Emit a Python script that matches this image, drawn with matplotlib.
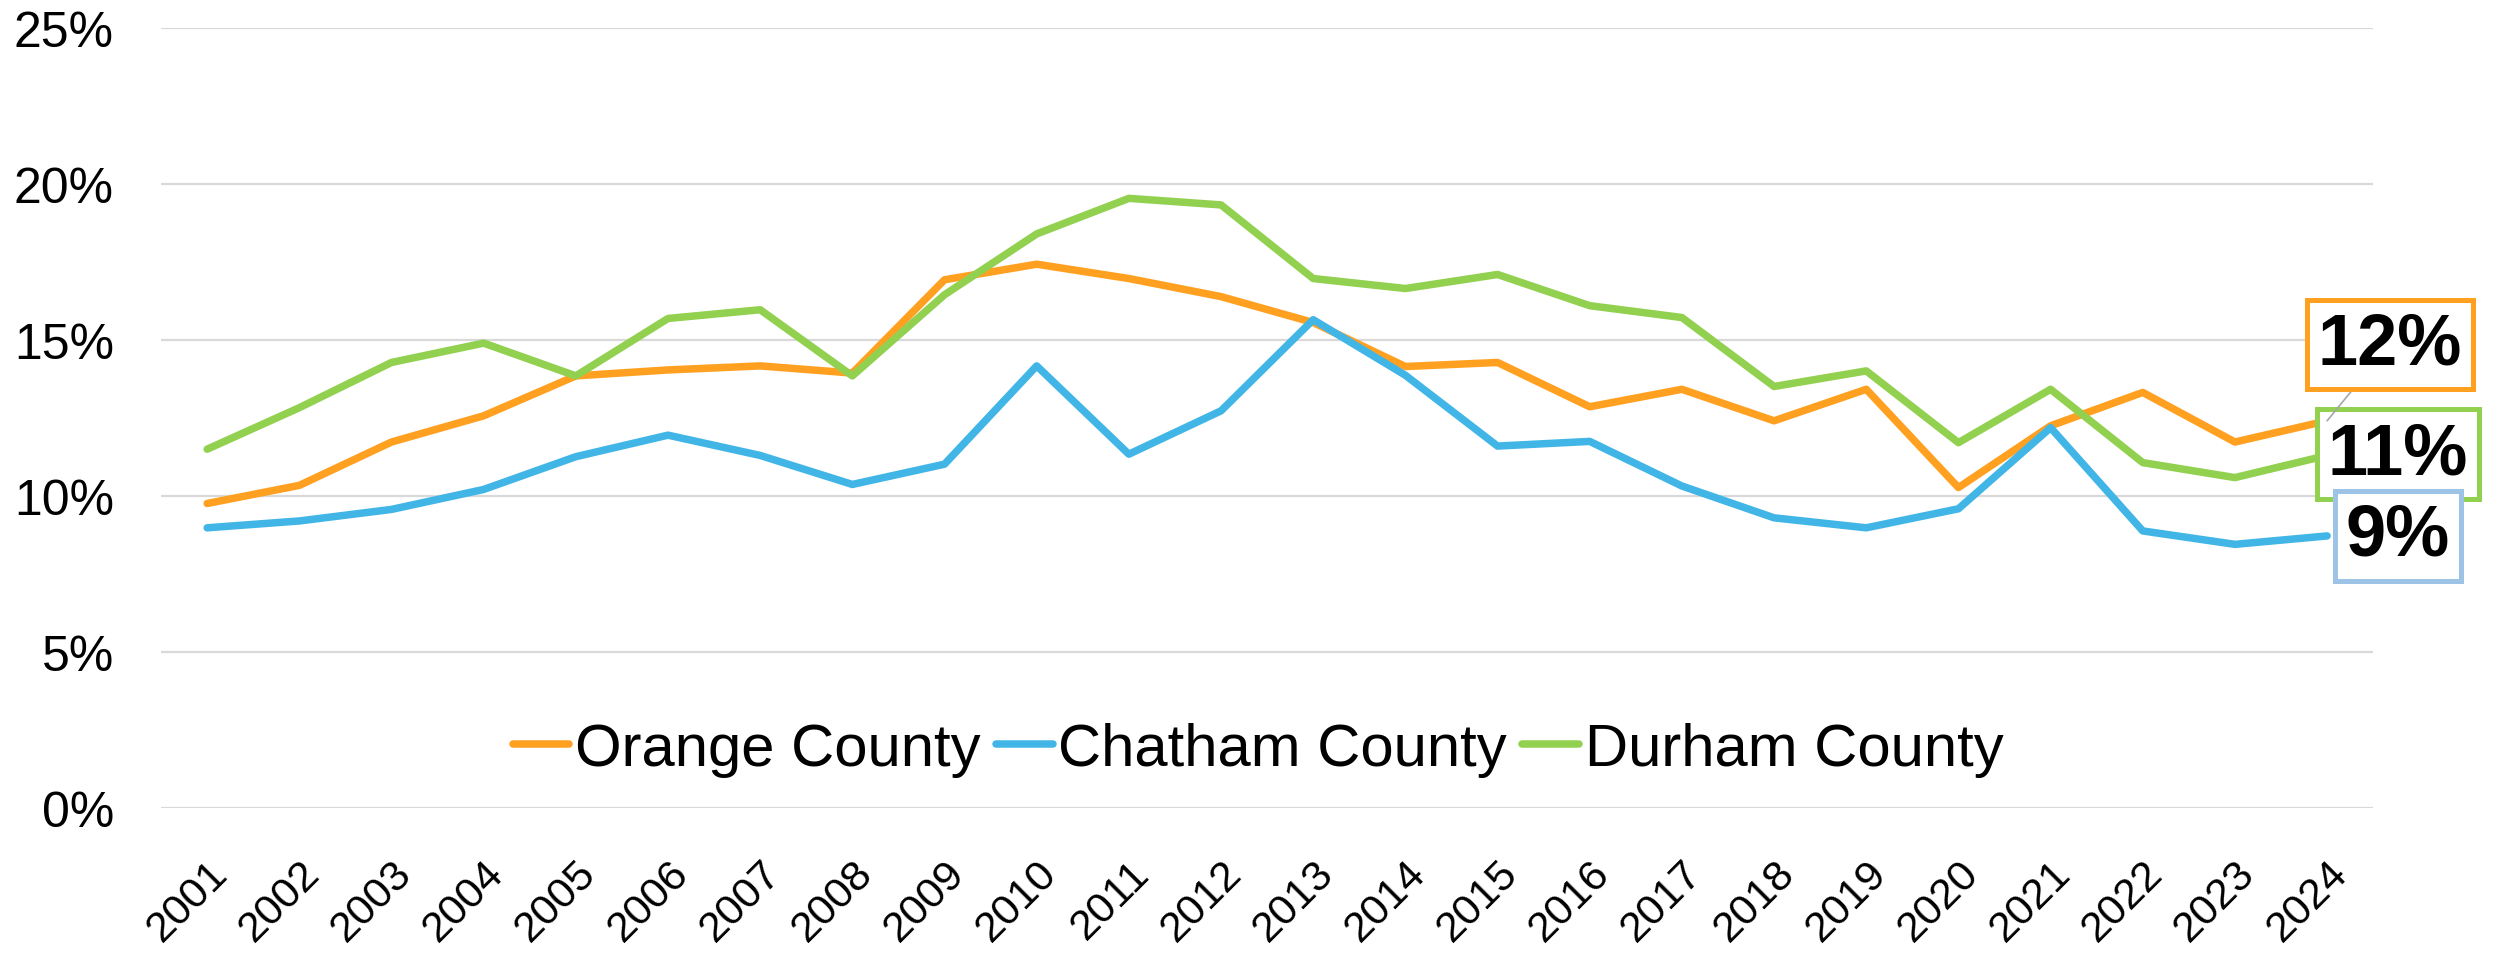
import matplotlib.pyplot as plt
from matplotlib.ticker import PercentFormatter

years = [str(y) for y in range(2001, 2025)]
orange = [9.76, 10.34, 11.73, 12.57, 13.85, 14.04, 14.17, 13.94, 16.93, 17.43, 16.97, 16.39,
          15.56, 14.15, 14.28, 12.86, 13.42, 12.41, 13.42, 10.27, 12.25, 13.32, 11.73, 12.41]
chatham = [8.98, 9.20, 9.57, 10.21, 11.26, 11.95, 11.30, 10.37, 11.02, 14.17, 11.34, 12.73,
           15.65, 13.87, 11.60, 11.75, 10.32, 9.30, 8.98, 9.59, 12.19, 8.88, 8.45, 8.72]
durham = [11.50, 12.83, 14.28, 14.90, 13.85, 15.69, 15.97, 13.85, 16.45, 18.40, 19.54, 19.33,
          16.97, 16.65, 17.10, 16.10, 15.72, 13.51, 14.01, 11.71, 13.42, 11.07, 10.59, 11.30]

names = ["Orange County", "Chatham County", "Durham County"]
colors = ["#FFA020", "#41B6E6", "#92D050"]
box_colors = ["#FFA020", "#9DC3E6", "#92D050"]
# end-of-line callouts: offset in points from the last point
offsets = [(45, 55), (51, 0), (51, 1)]

plt.rcParams['font.family'] = ['Liberation Sans', 'DejaVu Sans']

fig = plt.figure(figsize=(25.01, 9.54), dpi=100)
ax = fig.add_axes([0.0644, 0.152, 0.8845, 0.8176])

x = list(range(len(years)))
series = [orange, chatham, durham]
for vals, name, c in zip(series, names, colors):
    ax.plot(x, vals, color=c, lw=5.4, label=name,
            solid_capstyle='round', solid_joinstyle='round')

ax.set_xlim(-0.5, len(years) - 0.5)
ax.set_ylim(0, 25)
ax.set_yticks([0, 5, 10, 15, 20, 25])
ax.yaxis.set_major_formatter(PercentFormatter(decimals=0))
ax.set_xticks(x)
ax.set_xticklabels(years, rotation=45, ha='right', va='top',
                   rotation_mode='anchor', fontsize=31)
ax.tick_params(axis='x', length=0, pad=32)
ax.tick_params(axis='y', length=0, pad=34, labelsize=36)
ax.grid(axis='y', color='#D9D9D9', lw=1.6)
ax.set_axisbelow(True)
for s in ax.spines.values():
    s.set_visible(False)

# value callouts at 2024
for i, (vals, bc, off) in enumerate(zip(series, box_colors, offsets)):
    v = vals[-1]
    arrow = dict(arrowstyle='-', color='#A6A6A6', lw=1.2, shrinkA=0, shrinkB=0) if i == 0 else None
    ax.annotate(f"{v:.0f}%", xy=(x[-1], v), xytext=off, textcoords='offset points',
                ha='center', va='center', fontsize=52, fontweight='bold', color='black',
                bbox=dict(boxstyle='square,pad=0.15', fc='white', ec=bc, lw=3.6),
                arrowprops=arrow, annotation_clip=False, zorder=5 - i)

fig.legend(loc='center', bbox_to_anchor=(0.503, 0.213), ncol=3, frameon=False,
           fontsize=43, handlelength=0.95, handletextpad=0.1, columnspacing=0.25)

fig.savefig("out.png", dpi=100, facecolor='white')
